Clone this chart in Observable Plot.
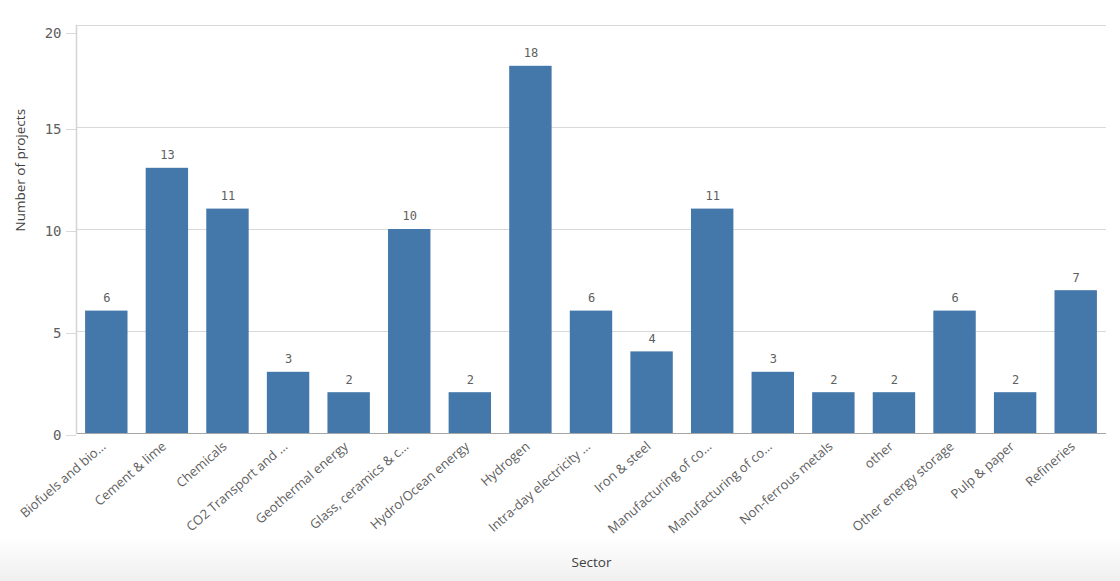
<!DOCTYPE html>
<html>
<head>
<meta charset="utf-8">
<script src="https://cdn.jsdelivr.net/npm/d3@7"></script>
<script src="https://cdn.jsdelivr.net/npm/@observablehq/plot@0.6"></script>
<style>
  html, body { margin: 0; padding: 0; }
  body {
    width: 1120px; height: 581px; overflow: hidden;
    background: linear-gradient(to bottom, #ffffff 0px, #ffffff 538px, #efefef 581px);
  }
</style>
</head>
<body>
<div id="chart"></div>
<script>
// Categories as displayed (truncated in the original chart)
const sectors = [
  "Biofuels and bio…",
  "Cement & lime",
  "Chemicals",
  "CO2 Transport and …",
  "Geothermal energy",
  "Glass, ceramics & c…",
  "Hydro/Ocean energy",
  "Hydrogen",
  "Intra-day electricity …",
  "Iron & steel",
  "Manufacturing of co…",
  "Manufacturing of co…",
  "Non-ferrous metals",
  "other",
  "Other energy storage",
  "Pulp & paper",
  "Refineries"
];
const projects = [6, 13, 11, 3, 2, 10, 2, 18, 6, 4, 11, 3, 2, 2, 6, 2, 7];
const yTicks = [0, 5, 10, 15, 20];
const xTitle = "Sector";
const yTitle = "Number of projects";

const data = sectors.map((s, i) => ({idx: i, sector: s, value: projects[i]}));
const idxDomain = data.map(d => d.idx);
const yMax = d3.max(yTicks);

const gray = "#5e5e5e";
const gridColor = "#d9d9d9";

const chart = Plot.plot({
  width: 1120,
  height: 581,
  marginTop: 25,
  marginBottom: 148,
  marginLeft: 76,
  marginRight: 14,
  style: {background: "transparent", color: gray},
  x: {type: "band", domain: idxDomain, paddingInner: 0.3, paddingOuter: 0.15, round: false},
  y: {domain: [0, yMax]},
  marks: [
    Plot.gridY(yTicks, {stroke: gridColor, strokeOpacity: 1}),
    Plot.axisY(yTicks.filter(t => t < yMax), {
      tickSize: 10, tickPadding: 5, stroke: gridColor,
      fontFamily: "DejaVu Sans Mono", fontSize: 14, fill: gray,
      label: null, dy: 2
    }),
    Plot.axisY([yMax], {
      tickSize: 10, tickPadding: 5, stroke: gridColor,
      fontFamily: "DejaVu Sans Mono", fontSize: 14, fill: gray,
      label: null, dy: 8
    }),
    Plot.barY(data, {x: "idx", y: "value", fill: "#4477aa"}),
    Plot.ruleY([0], {stroke: "#a6a6a6"}),
    Plot.frame({anchor: "left", stroke: "#d4d4d4", strokeWidth: 1.5}),
    Plot.text(data, {
      x: "idx", y: "value", text: d => String(d.value), dy: -13,
      fontFamily: "DejaVu Sans Mono", fontSize: 12, fill: gray
    }),
    Plot.axisX({
      tickSize: 0, tickPadding: 11, tickRotate: -41,
      tickFormat: i => sectors[i], dx: -3,
      fontFamily: "Open Sans", fontSize: 13, fill: gray,
      label: null
    }),
    Plot.text([yTitle], {
      frameAnchor: "left", dx: -56, dy: 2, rotate: -90,
      fontFamily: "Open Sans", fontSize: 13.5, fill: "#404040"
    }),
    Plot.text([xTitle], {
      frameAnchor: "bottom", dy: 133,
      fontFamily: "Open Sans", fontSize: 13.5, fill: "#404040"
    })
  ]
});

document.getElementById("chart").appendChild(chart);
</script>
</body>
</html>
